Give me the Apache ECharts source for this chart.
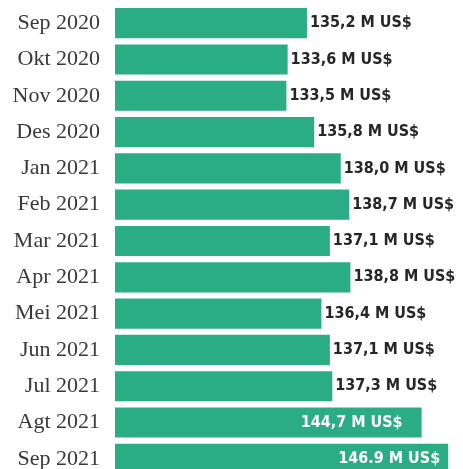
<!DOCTYPE html>
<html>
<head>
<meta charset="utf-8">
<script src="https://cdn.jsdelivr.net/npm/echarts@6/dist/echarts.min.js"></script>
<style>
html,body{margin:0;padding:0;background:#fff;}
#chart{width:463px;height:469px;}
</style>
</head>
<body>
<div id="chart"></div>
<script>
var months = ['Sep 2020', 'Okt 2020', 'Nov 2020', 'Des 2020', 'Jan 2021', 'Feb 2021', 'Mar 2021',
    'Apr 2021', 'Mei 2021', 'Jun 2021', 'Jul 2021', 'Agt 2021', 'Sep 2021'];
var values = [135.2, 133.6, 133.5, 135.8, 138.0, 138.7, 137.1, 138.8, 136.4, 137.1, 137.3, 144.7, 146.9];
var valueTexts = ['135,2', '133,6', '133,5', '135,8', '138,0', '138,7', '137,1', '138,8', '136,4', '137,1', '137,3', '144,7', '146.9'];
var insideIdx = {11: 19, 12: 8};

var myChart = echarts.init(document.getElementById('chart'));

var barData = values.map(function (v, i) {
    var item = {value: v};
    if (insideIdx[i] !== undefined) {
        item.label = {position: 'insideRight', distance: insideIdx[i], color: '#ffffff'};
    }
    return item;
});

option = {
    animation: false,
    grid: {
        left: 115,
        right: 10,
        top: 5,
        height: 472,
        outerBoundsMode: 'none'
    },
    xAxis: {
        type: 'value',
        min: 119.3,
        max: 147.3,
        show: false
    },
    yAxis: {
        type: 'category',
        inverse: true,
        data: months,
        axisLine: {show: false},
        axisTick: {show: false},
        axisLabel: {
            margin: 15,
            fontFamily: 'Liberation Serif',
            fontSize: 22,
            color: '#383838'
        }
    },
    series: [{
        type: 'bar',
        data: barData,
        barCategoryGap: '17%',
        itemStyle: {color: '#2bad83'},
        label: {
            show: true,
            position: 'right',
            distance: 3,
            fontFamily: 'DejaVu Sans Condensed',
            fontWeight: 'bold',
            fontSize: 16,
            color: '#262626',
            formatter: function (p) {
                return valueTexts[p.dataIndex] + ' M US$';
            }
        }
    }]
};
myChart.setOption(option);
</script>
</body>
</html>
